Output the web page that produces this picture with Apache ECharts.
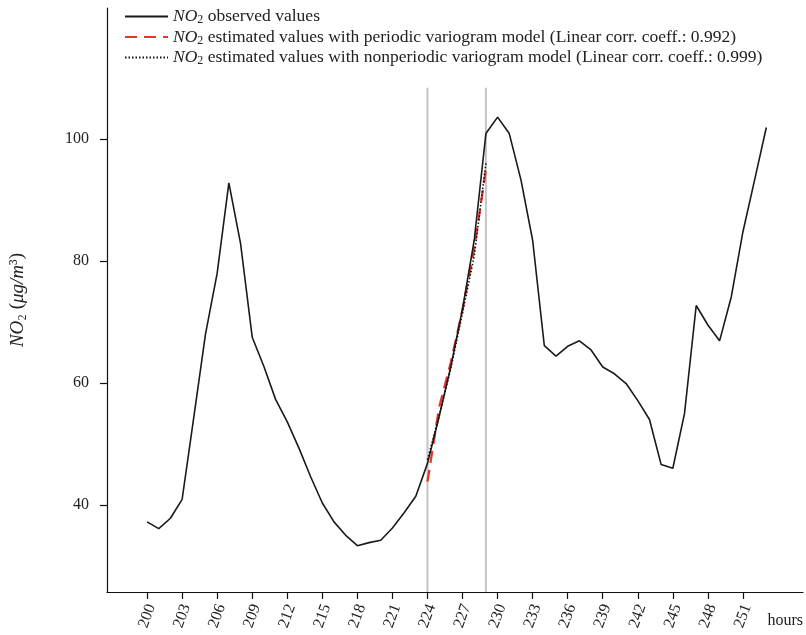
<!DOCTYPE html>
<html>
<head>
<meta charset="utf-8">
<script src="https://cdn.jsdelivr.net/npm/echarts@6/dist/echarts.min.js"></script>
<style>html,body{margin:0;padding:0;background:#fff;overflow:hidden}#c{width:806px;height:635px}</style>
</head>
<body>
<div id="c"></div>
<script>
// ---- data ----
const hours = [200,201,202,203,204,205,206,207,208,209,210,211,212,213,214,215,216,217,218,219,220,221,222,223,224,225,226,227,228,229,230,231,232,233,234,235,236,237,238,239,240,241,242,243,244,245,246,247,248,249,250,251,252,253];
const observed = [37.2,36.1,37.8,40.9,54.4,68.0,78.0,92.8,82.9,67.5,62.7,57.3,53.6,49.3,44.6,40.3,37.2,35.0,33.3,33.8,34.2,36.2,38.7,41.4,46.8,54.5,62.7,72.2,83.4,100.9,103.6,100.9,93.3,83.4,66.1,64.4,66.0,66.9,65.4,62.6,61.5,59.9,57.1,54.0,46.6,46.0,55.0,72.7,69.5,66.9,74.1,84.8,93.3,101.9];
const estHours = [224,225,226,227,228,229];
const periodicEst = [43.8,56.0,63.4,72.0,82.0,95.0];
const nonperiodicEst = [47.4,54.6,62.4,71.5,80.8,96.0];
const windowHours = [224,229];
const windowTop = 108.4;
const xTicks = [200,203,206,209,212,215,218,221,224,227,230,233,236,239,242,245,248,251];
const yTicks = [40,60,80,100];
const legendTexts = [
  ' observed values',
  ' estimated values with periodic variogram model (Linear corr. coeff.: 0.992)',
  ' estimated values with nonperiodic variogram model (Linear corr. coeff.: 0.999)'
];
const names = ['observed', 'periodic', 'nonperiodic'];

const xMin = 196.57, xMax = 256.14, yMin = 25.7, yMax = 121.5;
const FONT = '"Liberation Serif", "DejaVu Serif", serif';

const zip = (a, b) => a.map((v, i) => [v, b[i]]);

const series = [];
windowHours.forEach(h => {
  series.push({
    type: 'line', data: [[h, yMin], [h, windowTop]], symbol: 'none', silent: true,
    lineStyle: { color: '#c4c4c4', width: 2 }, z: 1, animation: false
  });
});
series.push({
  name: names[0], type: 'line', data: zip(hours, observed), symbol: 'none',
  lineStyle: { color: '#1a1a1a', width: 1.6 }, itemStyle: { color: '#1a1a1a' }, z: 3, animation: false
});
series.push({
  name: names[1], type: 'line', data: zip(estHours, periodicEst), symbol: 'none',
  lineStyle: { color: '#e8352a', width: 2.3, type: [12, 7] }, itemStyle: { color: '#e8352a' }, z: 2, animation: false
});
series.push({
  name: names[2], type: 'line', data: zip(estHours, nonperiodicEst), symbol: 'none',
  lineStyle: { color: '#111', width: 1.6, type: [1.5, 2] }, itemStyle: { color: '#111' }, z: 4, animation: false
});

const chart = echarts.init(document.getElementById('c'), null, { renderer: 'canvas' });
chart.setOption({
  backgroundColor: '#fff',
  animation: false,
  textStyle: { fontFamily: FONT },
  grid: { left: 107, right: 0, top: 8, bottom: 43, containLabel: false },
  legend: {
    data: names, orient: 'vertical', left: 119, top: 2,
    itemWidth: 43, itemHeight: 14, itemGap: 1.5,
    itemStyle: { color: 'rgba(0,0,0,0)', borderWidth: 0, opacity: 0 },
    formatter: n => '{it|NO}{sub|2}{t|' + legendTexts[names.indexOf(n)] + '}',
    textStyle: {
      fontFamily: FONT, fontSize: 17.5, color: '#222', padding: [0, 0, 0, 0], lineHeight: 18,
      rich: {
        it: { fontStyle: 'italic', fontSize: 17.5, fontFamily: FONT, color: '#222', lineHeight: 18 },
        sub: { fontSize: 12, fontFamily: FONT, color: '#222', lineHeight: 12, padding: [7, 0, 0, 0] },
        t: { fontSize: 17.5, fontFamily: FONT, color: '#222', lineHeight: 18 }
      }
    }
  },
  xAxis: {
    type: 'value', min: xMin, max: xMax,
    name: 'hours', nameLocation: 'end', nameGap: 0,
    nameTextStyle: { fontFamily: FONT, fontSize: 16, color: '#222', align: 'right', verticalAlign: 'top', padding: [21, 0, 0, 0] },
    axisLine: { show: true, onZero: false, lineStyle: { color: '#111', width: 1.2 } },
    axisTick: { show: true, customValues: xTicks, length: 7, lineStyle: { color: '#111', width: 1.2 } },
    axisLabel: {
      customValues: xTicks, rotate: 70, margin: 24, align: 'center', verticalAlign: 'middle',
      fontFamily: FONT, fontSize: 16, color: '#222'
    },
    splitLine: { show: false }
  },
  yAxis: {
    type: 'value', min: yMin, max: yMax,
    name: '{it|NO}{n|\u2082 (}{it|\u03bcg/m}{n|\u00b3)}',
    nameLocation: 'middle', nameRotate: 90, nameGap: 80,
    nameTextStyle: {
      fontFamily: FONT, fontSize: 19, color: '#222',
      rich: {
        it: { fontStyle: 'italic', fontSize: 19, fontFamily: FONT, color: '#222' },
        n: { fontSize: 19, fontFamily: FONT, color: '#222' }
      }
    },
    axisLine: { show: true, lineStyle: { color: '#111', width: 1.2 } },
    axisTick: { show: true, customValues: yTicks, length: 7, lineStyle: { color: '#111', width: 1.2 } },
    axisLabel: { customValues: yTicks, margin: 18, fontFamily: FONT, fontSize: 16, color: '#222' },
    splitLine: { show: false }
  },
  series: series
});
</script>
</body>
</html>
